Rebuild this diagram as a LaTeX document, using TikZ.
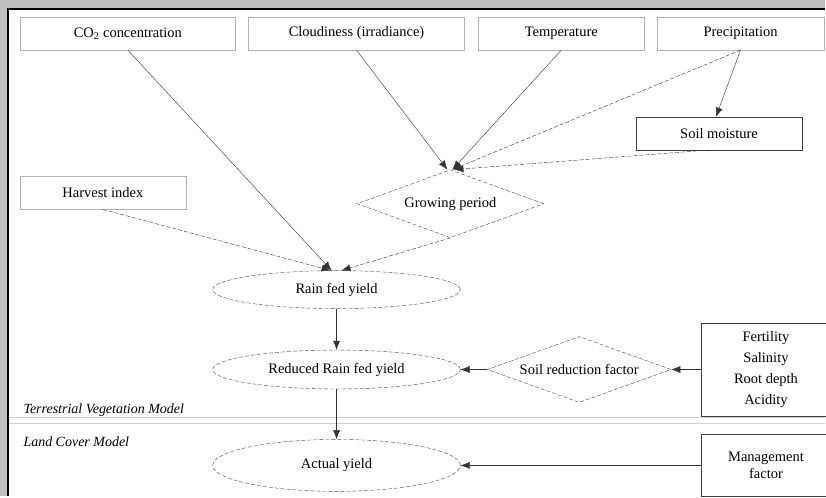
\documentclass[tikz,border=0pt]{standalone}
\usepackage{fontspec}
\setmainfont{Liberation Serif}
\usetikzlibrary{shapes.geometric,arrows.meta}

\begin{document}
\begin{tikzpicture}[x=1pt,y=-1pt,
  font=\fontsize{14.5}{17}\selectfont,
  inbox/.style={draw=gray!60,rectangle,inner sep=0pt,minimum height=33pt},
  factorbox/.style={draw=black!75,rectangle,inner sep=0pt,align=center},
  yieldnode/.style={draw=black!70,dash pattern=on 4pt off 2pt,ellipse,inner sep=0pt,minimum width=248pt},
  decision/.style={draw=black!70,dash pattern=on 4pt off 2pt,diamond,inner sep=0pt,aspect=2.75},
  link/.style={draw=black!80,-{Latex[length=9pt,width=7pt]}},
  dlink/.style={link,dash pattern=on 4pt off 2pt}]
  % Draw frame
  \fill[gray!50] (0,0) rectangle (826,497);
  \fill[white] (8,9) rectangle (826,497);
  \draw[line width=2.2pt] (8,497) -- (8,9) -- (826,9);
  \useasboundingbox (0,0) rectangle (826,497);

  % Input boxes
  \node[inbox,minimum width=216pt] (co2) at (128,33.5) {CO\textsubscript{2} concentration};
  \node[inbox,minimum width=216pt] (cloud) at (357,33.5) {Cloudiness (irradiance)};
  \node[inbox,minimum width=166pt] (temp) at (562,33.5) {Temperature};
  \node[inbox,minimum width=167pt] (precip) at (741.5,33.5) {Precipitation};
  \node[inbox,minimum width=166pt] (harvest) at (103,193) {Harvest index};
  \node[factorbox,minimum width=166pt,minimum height=33pt] (moist) at (720,133.5) {Soil moisture};

  % Decision diamonds
  \node[decision,minimum width=187pt,minimum height=68pt] (grow) at (451,204) {Growing period};
  \node[decision,minimum width=184pt,minimum height=66pt] (soilred) at (580,370) {Soil reduction factor};

  % Yields
  \node[yieldnode,minimum height=38pt] (rainfed) at (337,290) {Rain fed yield};
  \node[yieldnode,minimum height=39pt] (reduced) at (337,370) {Reduced Rain fed yield};
  \node[yieldnode,minimum height=52pt] (actual) at (337,466) {Actual yield};

  % Factor boxes
  \node[factorbox,minimum width=130pt,minimum height=93pt,font=\fontsize{14.5}{21}\selectfont] (soilprops) at (767,370) {Fertility\\Salinity\\Root depth\\Acidity};
  \node[factorbox,minimum width=130pt,minimum height=62pt] (manage) at (767,466) {Management\\factor};

  % Model separator
  \draw[gray!35] (9,418) -- (826,418) (9,424) -- (826,424);
  \node[anchor=base west,font=\fontsize{14}{17}\selectfont\itshape] (tvm) at (20,414) {Terrestrial Vegetation Model};
  \node[anchor=base west,font=\fontsize{14}{17}\selectfont\itshape] (lcm) at (20,447) {Land Cover Model};

  % Links
  \draw[link] (co2.south) -- ([xshift=-5pt]rainfed.north);
  \draw[dlink] (harvest.south) -- ([xshift=-6pt]rainfed.north);
  \draw[dlink] (grow.south) -- ([xshift=5pt]rainfed.north);
  \draw[link] (cloud.south) -- ([xshift=-3pt]grow.north);
  \draw[link] (temp.south) -- ([xshift=2pt]grow.north);
  \draw[dlink] (precip.south) -- ([xshift=2pt]grow.north);
  \draw[link] (precip.south) -- ([xshift=-3pt]moist.north);
  \draw[dlink] ([xshift=-10pt]moist.south) -- ([xshift=4pt]grow.north);
  \draw[link] (rainfed) -- (reduced);
  \draw[link] (reduced) -- (actual);
  \draw[link] (soilred) -- (reduced);
  \draw[link] (soilprops) -- (soilred);
  \draw[link] (manage) -- (actual);
\end{tikzpicture}
\end{document}
